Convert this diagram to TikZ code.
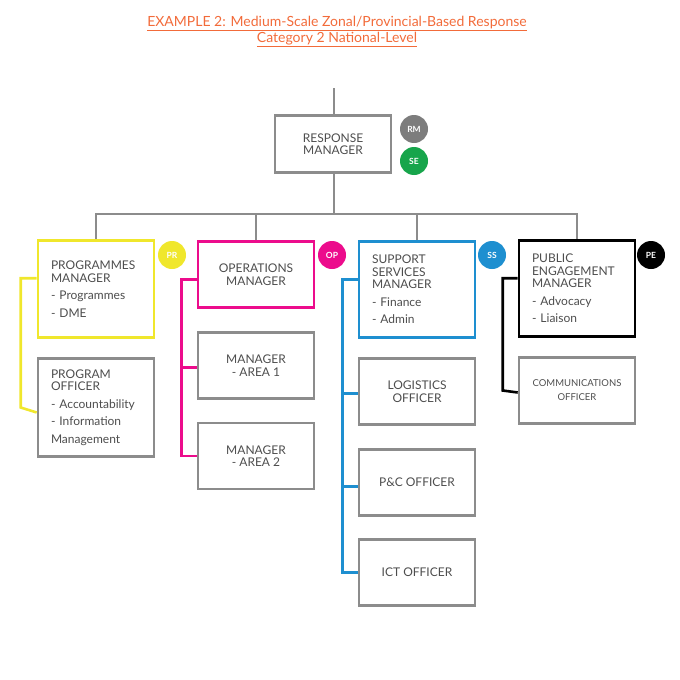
\documentclass[tikz,border=0pt]{standalone}
\usepackage{fontspec}
\setmainfont{Lato}
\definecolor{boxgray}{HTML}{8C8C8C}
\definecolor{txtgray}{HTML}{4D4D4D}
\definecolor{badgegray}{HTML}{7D7D7D}
\definecolor{sexgreen}{HTML}{17A54B}
\definecolor{pryellow}{HTML}{F0E72C}
\definecolor{opmagenta}{HTML}{EC0C8C}
\definecolor{ssblue}{HTML}{1E8FD0}
\definecolor{titleorange}{HTML}{F26B3A}
\begin{document}
\begin{tikzpicture}[x=1pt,y=-1pt,
 box/.style={draw=boxgray,line width=2.6pt,minimum width=116pt,inner xsep=13pt,inner ysep=2pt,text=txtgray,font=\fontsize{12}{12.5}\selectfont},
 lbox/.style={box,text width=90pt,align=left},
 cbox/.style={box,align=center},
 sbox/.style={box,align=center,font=\fontsize{9.5}{14}\selectfont},
 badge/.style={circle,minimum size=28pt,inner sep=0pt,text=white,font=\fontsize{8.5}{8.5}\selectfont\bfseries},
 conn/.style={line width=2.6pt,draw=#1},
 conn/.default=boxgray,
 ttl/.style={text=titleorange,font=\fontsize{14}{16}\selectfont,anchor=base}]
 \useasboundingbox (0,0) rectangle (680,680);
 \node[ttl] (ttla) at (337,26) {\underline{EXAMPLE 2: Medium-Scale Zonal/Provincial-Based Response}};
 \node[ttl] (ttlb) at (337,42) {\underline{Category 2 National-Level}};
 \node[cbox,minimum height=57pt] (rm) at (333,144) {RESPONSE\\MANAGER};
 \node[badge,fill=badgegray] (rmb) at (414,129) {RM};
 \node[badge,fill=sexgreen] (seb) at (414,161) {SE};
 \node[lbox,draw=pryellow,minimum height=97pt] (pr) at (96,289) {PROGRAMMES\\MANAGER\\[5pt]- Programmes\\[5pt]- DME};
 \node[cbox,draw=opmagenta,minimum height=66pt] (op) at (256,274.5) {OPERATIONS\\MANAGER};
 \node[lbox,draw=ssblue,minimum height=96pt] (ss) at (417,289.5) {SUPPORT\\SERVICES\\MANAGER\\[5pt]- Finance\\[5pt]- Admin};
 \node[lbox,draw=black,minimum height=96pt] (pe) at (577,288.5) {PUBLIC\\ENGAGEMENT\\MANAGER\\[5pt]- Advocacy\\[5pt]- Liaison};
 \node[badge,fill=pryellow] (prb) at (172,255) {PR};
 \node[badge,fill=opmagenta] (opb) at (332,255) {OP};
 \node[badge,fill=ssblue] (ssb) at (492,255) {SS};
 \node[badge,fill=black] (peb) at (651,255) {PE};
 \node[lbox,minimum height=98pt] (po) at (96,407.5) {PROGRAM\\OFFICER\\[5pt]- Accountability\\[5pt]- Information\\[5pt]Management};
 \node[cbox,minimum height=66pt] (aone) at (256,365.5) {MANAGER\\- AREA 1};
 \node[cbox,minimum height=66pt] (atwo) at (256,456) {MANAGER\\- AREA 2};
 \node[cbox,minimum height=66pt] (lo) at (417,391.5) {LOGISTICS\\OFFICER};
 \node[cbox,minimum height=66pt] (pc) at (417,482.5) {P\&C OFFICER};
 \node[cbox,minimum height=66pt] (ict) at (417,572.5) {ICT OFFICER};
 \node[sbox,minimum height=66pt] (co) at (577,390.5) {COMMUNICATIONS\\OFFICER};
 \coordinate (top) at (334,88);
 \coordinate (bus) at (0,214);
 \draw[conn] (top) -- (top |- rm.north);
 \draw[conn] (top |- rm.south) -- (top |- bus);
 \draw[conn] (pr.north) -- (pr.north |- bus) -- (pe.north |- bus) -- (pe.north);
 \draw[conn] (op.north) -- (op.north |- bus);
 \draw[conn] (ss.north) -- (ss.north |- bus);
 \draw[conn=pryellow] ([yshift=-39pt]pr.north west) -| ([xshift=-16pt]po.west) -- ([yshift=-5pt]po.west);
 \draw[conn=opmagenta] ([yshift=-39pt]op.north west) -| ([xshift=-15pt]atwo.west) -- (atwo.west);
 \draw[conn=opmagenta] ([yshift=-2pt]aone.west) -- ++(-15pt,0);
 \draw[conn=ssblue] ([yshift=-39pt]ss.north west) -| ([xshift=-15pt]ict.west) -- (ict.west);
 \draw[conn=ssblue] ([yshift=-2pt]lo.west) -- ++(-15pt,0);
 \draw[conn=ssblue] ([yshift=-4pt]pc.west) -- ++(-15pt,0);
 \draw[conn=black] ([yshift=-39pt]pe.north west) -| ([xshift=-15pt]co.west) -- ([yshift=-2pt]co.west);
\end{tikzpicture}
\end{document}
